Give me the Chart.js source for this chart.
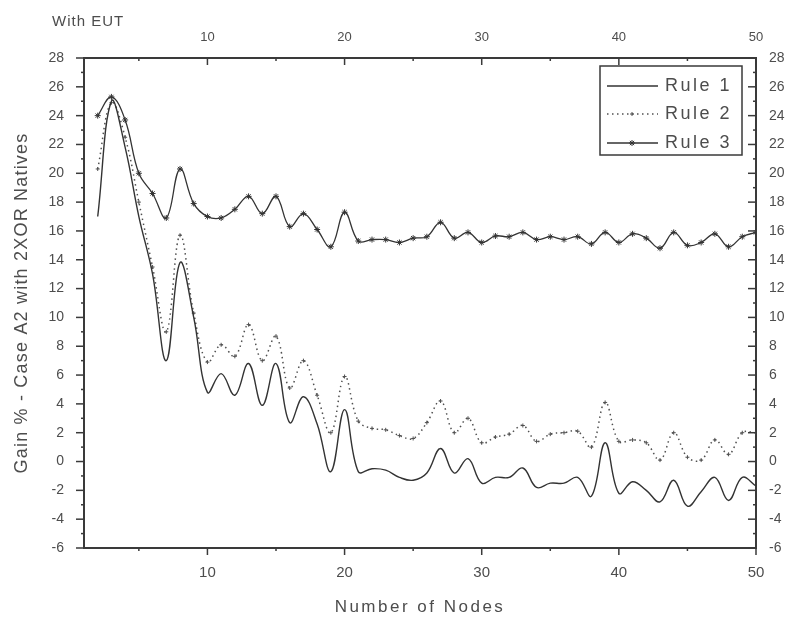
<!DOCTYPE html>
<html>
<head>
<meta charset="utf-8">
<script src="https://cdn.jsdelivr.net/npm/chart.js@4.4.0/dist/chart.umd.min.js"></script>
<style>
  html, body { margin: 0; padding: 0; background: #fff; }
  #wrap { position: relative; width: 788px; height: 622px; }
</style>
</head>
<body>
<div id="wrap"><canvas id="myChart" width="788" height="622"></canvas></div>
<script>
// number of nodes (x)
const nodes = [
  2, 3, 4, 5, 6, 7, 8, 9, 10, 11, 12, 13, 14, 15, 16, 17, 18, 19, 20,
  21, 22, 23, 24, 25, 26, 27, 28, 29, 30, 31, 32, 33, 34, 35, 36, 37, 38, 39, 40,
  41, 42, 43, 44, 45, 46, 47, 48, 49, 50,
];
// gain % for each rule
const rule1 = [
  17.0, 25.0, 21.8, 17.0, 13.0, 7.0, 13.8, 10.0, 4.8, 6.1, 4.6, 6.8, 3.9, 6.8, 2.7, 4.5, 2.6, -0.7, 3.6,
  -0.7, -0.5, -0.6, -1.1, -1.3, -0.8, 0.9, -0.8, 0.2, -1.5, -1.1, -1.1, -0.45, -1.8, -1.5, -1.5, -1.1, -2.4, 1.3, -2.2,
  -1.4, -2.0, -2.8, -1.3, -3.1, -2.1, -1.1, -2.7, -1.1, -1.7,
];
const rule2 = [
  20.3, 24.9, 22.5, 18.0, 13.5, 9.0, 15.7, 10.3, 6.9, 8.1, 7.3, 9.5, 7.0, 8.7, 5.1, 7.0, 4.6, 2.0, 5.9,
  2.8, 2.3, 2.2, 1.8, 1.6, 2.7, 4.2, 2.0, 3.0, 1.3, 1.7, 1.9, 2.5, 1.4, 1.9, 2.0, 2.1, 1.0, 4.1, 1.4,
  1.5, 1.3, 0.1, 2.0, 0.3, 0.1, 1.5, 0.5, 2.0, 2.0,
];
const rule3 = [
  24.0, 25.3, 23.7, 20.0, 18.6, 16.9, 20.3, 17.9, 17.0, 16.9, 17.5, 18.4, 17.2, 18.4, 16.3, 17.2, 16.1, 14.9, 17.3,
  15.3, 15.4, 15.4, 15.2, 15.5, 15.6, 16.6, 15.5, 15.9, 15.2, 15.65, 15.6, 15.9, 15.4, 15.6, 15.4, 15.6, 15.1, 15.9, 15.2,
  15.8, 15.5, 14.8, 15.9, 15.0, 15.2, 15.8, 14.9, 15.6, 15.9,
];
const seriesNames = ["Rule 1", "Rule 2", "Rule 3"];
const xTicks = [10, 20, 30, 40, 50];
const xMin = 1, xMax = 50;
const yMin = -6, yMax = 28, yStep = 2;

const textColor = "#4d4d4d";
const axisColor = "#3a3a3a";
const fontFamily = "'Liberation Sans', Arial, sans-serif";

const toPoints = (ys) => nodes.map((n, i) => ({ x: n, y: ys[i] }));

const styles = [
  { borderColor: "#333333", borderWidth: 1.4, pointRadius: 0 },
  { borderColor: "#505050", borderWidth: 1.5, borderDash: [1.5, 3.5], pointStyle: "cross", pointRadius: 2, pointBorderWidth: 1 },
  { borderColor: "#333333", borderWidth: 1.3, pointStyle: "star", pointRadius: 3, pointBorderWidth: 1 },
];

const datasets = [rule1, rule2, rule3].map((ys, i) => Object.assign({
  label: seriesNames[i],
  data: toPoints(ys),
  tension: 0.4,
  fill: false,
  pointBackgroundColor: styles[i].borderColor,
  pointBorderColor: styles[i].borderColor,
}, styles[i]));

// fixed tick positions on both x axes
const setXTicks = (s) => { s.ticks = xTicks.map((v) => ({ value: v })); };

// axis ticks, titles, extra label and legend box
const frame = {
  id: "frame",
  afterDraw(chart) {
    const { ctx, chartArea: a, scales } = chart;
    const seg = (x1, y1, x2, y2) => { ctx.beginPath(); ctx.moveTo(x1, y1); ctx.lineTo(x2, y2); ctx.stroke(); };
    ctx.save();
    ctx.strokeStyle = axisColor;
    ctx.lineWidth = 1.5;
    for (let v = yMin; v <= yMax; v++) {
      const y = scales.y.getPixelForValue(v);
      const len = v % 2 === 0 ? 8 : 3;
      seg(a.left - len, y, a.left, y);
      seg(a.right - len, y, a.right, y);
    }
    for (let v = 5; v <= xMax; v += 5) {
      const x = scales.x.getPixelForValue(v);
      const len = v % 10 === 0 ? 7 : 3;
      seg(x, a.bottom, x, a.bottom + len);
      seg(x, a.top, x, a.top + len);
    }

    ctx.fillStyle = textColor;
    ctx.textBaseline = "middle";
    // x title
    ctx.letterSpacing = "2.5px";
    ctx.font = "17px " + fontFamily;
    ctx.textAlign = "center";
    ctx.fillText("Number of Nodes", (a.left + a.right) / 2, 607);
    // y title
    ctx.save();
    ctx.translate(22, (a.top + a.bottom) / 2);
    ctx.rotate(-Math.PI / 2);
    ctx.letterSpacing = "1.2px";
    ctx.font = "18px " + fontFamily;
    ctx.fillText("Gain % - Case A2 with 2XOR Natives", 0, 0);
    ctx.restore();
    // top-left note
    ctx.letterSpacing = "1px";
    ctx.font = "15px " + fontFamily;
    ctx.textAlign = "left";
    ctx.fillText("With EUT", 52, 22);

    // legend
    const box = { x: 600, y: 66, w: 142, h: 89 };
    ctx.fillStyle = "#fff";
    ctx.fillRect(box.x, box.y, box.w, box.h);
    ctx.lineWidth = 1.5;
    ctx.strokeStyle = axisColor;
    ctx.strokeRect(box.x, box.y, box.w, box.h);
    const rows = [86, 114, 143];
    ctx.font = "18px " + fontFamily;
    ctx.letterSpacing = "2.5px";
    datasets.forEach((ds, i) => {
      const y = rows[i];
      ctx.save();
      ctx.strokeStyle = ds.borderColor;
      ctx.lineWidth = ds.borderWidth;
      ctx.setLineDash(ds.borderDash || []);
      seg(607, y, 658, y);
      ctx.restore();
      if (ds.pointRadius > 0) {
        ctx.save();
        ctx.strokeStyle = ds.borderColor;
        ctx.fillStyle = ds.borderColor;
        ctx.lineWidth = ds.pointBorderWidth;
        Chart.helpers.drawPoint(ctx, { pointStyle: ds.pointStyle, radius: ds.pointRadius, borderWidth: ds.pointBorderWidth }, 632, y);
        ctx.restore();
      }
      ctx.fillStyle = textColor;
      ctx.fillText(ds.label, 665, y);
    });
    ctx.restore();
  },
};

const tickFont = (size) => ({ family: fontFamily, size: size });

const ctx = document.getElementById("myChart").getContext("2d");
const myChart = new Chart(ctx, {
  type: "line",
  data: { datasets: datasets },
  options: {
    responsive: false,
    animation: false,
    devicePixelRatio: 1,
    layout: { padding: 0 },
    plugins: { legend: { display: false }, tooltip: { enabled: false } },
    scales: {
      x: {
        type: "linear", position: "bottom", min: xMin, max: xMax,
        afterBuildTicks: setXTicks,
        afterFit: (s) => { s.height = 74; },
        grid: { display: false, drawTicks: false },
        border: { display: true, color: axisColor, width: 2 },
        ticks: { padding: 16, color: textColor, font: tickFont(15), maxRotation: 0 },
      },
      x2: {
        type: "linear", position: "top", min: xMin, max: xMax,
        afterBuildTicks: setXTicks,
        afterFit: (s) => { s.height = 58; },
        grid: { display: false, drawTicks: false },
        border: { display: true, color: axisColor, width: 2 },
        ticks: { padding: 13, color: textColor, font: tickFont(13), maxRotation: 0 },
      },
      y: {
        type: "linear", position: "left", min: yMin, max: yMax,
        afterFit: (s) => { s.width = 84; },
        grid: { display: false, drawTicks: false },
        border: { display: true, color: axisColor, width: 2 },
        ticks: { stepSize: yStep, padding: 20, color: textColor, font: tickFont(14) },
      },
      y2: {
        type: "linear", position: "right", min: yMin, max: yMax,
        afterFit: (s) => { s.width = 32; },
        grid: { display: false, drawTicks: false },
        border: { display: true, color: axisColor, width: 2 },
        ticks: { stepSize: yStep, padding: 13, color: textColor, font: tickFont(14) },
      },
    },
  },
  plugins: [frame],
});
</script>
</body>
</html>
